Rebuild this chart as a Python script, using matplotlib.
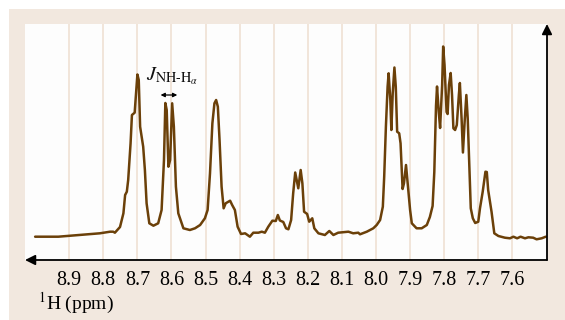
import matplotlib
matplotlib.use("Agg")
import matplotlib.pyplot as plt

# 1H NMR spectrum, amide region (chemical shift in ppm, intensity in arbitrary units)
shift_ppm = [
    9.000, 8.932, 8.883, 8.834, 8.810, 8.780, 8.771, 8.766, 8.751, 8.741,
    8.736, 8.731, 8.727, 8.720, 8.716, 8.708, 8.704, 8.700, 8.696, 8.692,
    8.683, 8.678, 8.673, 8.665, 8.653, 8.639, 8.629, 8.622, 8.618, 8.614,
    8.609, 8.604, 8.598, 8.593, 8.587, 8.580, 8.565, 8.546, 8.531, 8.516,
    8.502, 8.494, 8.487, 8.480, 8.474, 8.469, 8.464, 8.459, 8.453, 8.447,
    8.441, 8.428, 8.422, 8.414, 8.406, 8.396, 8.384, 8.370, 8.360, 8.345,
    8.335, 8.326, 8.316, 8.304, 8.294, 8.288, 8.282, 8.272, 8.264, 8.257,
    8.249, 8.243, 8.237, 8.228, 8.221, 8.216, 8.211, 8.202, 8.196, 8.187,
    8.181, 8.169, 8.150, 8.137, 8.125, 8.111, 8.081, 8.067, 8.052, 8.047,
    8.027, 8.008, 7.998, 7.988, 7.980, 7.976, 7.971, 7.966, 7.963, 7.958,
    7.955, 7.951, 7.946, 7.942, 7.938, 7.932, 7.928, 7.922, 7.918, 7.912,
    7.907, 7.900, 7.895, 7.881, 7.866, 7.851, 7.842, 7.834, 7.829, 7.824,
    7.821, 7.816, 7.812, 7.806, 7.803, 7.799, 7.793, 7.790, 7.786, 7.781,
    7.777, 7.773, 7.768, 7.763, 7.757, 7.754, 7.749, 7.745, 7.740, 7.735,
    7.731, 7.726, 7.722, 7.716, 7.709, 7.700, 7.695, 7.687, 7.679, 7.675,
    7.671, 7.661, 7.653, 7.641, 7.622, 7.607, 7.597, 7.586, 7.576, 7.563,
    7.553, 7.539, 7.529, 7.514, 7.502,
]
intensity = [
    23.3, 23.3, 24.7, 26.0, 26.7, 28.3, 28.3, 27.3, 33.0, 46.7,
    65.0, 68.3, 80.0, 116.7, 145.0, 147.3, 166.7, 185.5, 180.0, 133.3,
    113.3, 90.0, 56.7, 36.7, 34.3, 36.7, 50.0, 100.0, 157.0, 150.0,
    93.3, 100.0, 156.7, 133.3, 73.3, 46.7, 31.7, 30.0, 31.7, 35.0,
    41.7, 50.0, 86.7, 136.7, 156.7, 160.0, 153.3, 120.0, 73.3, 51.7,
    56.7, 59.3, 55.0, 50.0, 33.3, 26.0, 26.7, 23.3, 27.3, 27.3,
    28.3, 27.3, 33.3, 39.3, 39.0, 45.0, 39.5, 38.0, 31.7, 30.7,
    40.0, 66.7, 87.5, 71.7, 90.0, 76.7, 48.3, 46.0, 38.3, 41.7,
    31.7, 26.7, 25.0, 29.0, 25.0, 27.3, 28.3, 26.7, 27.3, 25.7,
    28.3, 31.7, 35.0, 40.0, 53.3, 83.3, 133.3, 173.3, 186.7, 160.0,
    130.0, 166.7, 192.5, 173.3, 128.3, 126.7, 116.7, 71.0, 76.7, 95.0,
    76.7, 50.0, 36.7, 31.7, 31.7, 35.0, 43.0, 54.0, 88.0, 154.0,
    173.5, 148.3, 132.0, 175.0, 213.5, 195.0, 148.0, 146.0, 175.0, 187.0,
    165.0, 131.7, 130.0, 135.0, 165.0, 177.0, 141.7, 107.5, 138.3, 165.0,
    141.7, 91.7, 51.7, 41.7, 37.0, 38.3, 51.7, 68.3, 88.3, 88.0,
    70.0, 48.0, 26.7, 24.0, 22.3, 21.7, 23.3, 21.7, 23.3, 21.7,
    22.7, 22.3, 20.7, 21.7, 23.3,
]

tick_values = [8.9, 8.8, 8.7, 8.6, 8.5, 8.4, 8.3, 8.2, 8.1, 8.0, 7.9, 7.8, 7.7, 7.6]
tick_labels = [f"{v:.1f}" for v in tick_values]

# coupling-constant marker across the doublet
j_arrow_ppm = [8.632, 8.583]
j_arrow_level = 165.0

plt.rcParams["font.family"] = ["Liberation Serif", "DejaVu Serif"]
plt.rcParams["mathtext.fontset"] = "stix"

W, H = 565, 320
fig = plt.figure(figsize=(W / 100, H / 100), dpi=100)
fig.patch.set_facecolor("white")

# beige panel behind the plot
bg = fig.add_axes([9 / W, 0, 1 - 9 / W, 1 - 9 / H], zorder=-5)
bg.set_facecolor("#f2e8df")
bg.set_xticks([])
bg.set_yticks([])
for s in bg.spines.values():
    s.set_visible(False)

ax = fig.add_axes([25 / W, 1 - 260 / H, (547 - 25) / W, (260 - 24) / H], zorder=1)
ax.set_facecolor("#fdfdfd")

ax.plot(shift_ppm, intensity, color="#6b4009", lw=1.8, solid_joinstyle="round",
        solid_capstyle="round", zorder=3)

ax.set_xlim(9.0297, 7.4984)
ax.set_ylim(0, 236)

ax.set_xticks(tick_values)
ax.set_xticklabels(tick_labels, fontsize=14.5)
ax.tick_params(axis="x", length=0, pad=8.0)
ax.set_yticks([])
ax.grid(axis="x", color="#f1e5da", lw=1.4, zorder=0)

for s in ax.spines.values():
    s.set_visible(False)

# axes drawn as arrows: x to the left along the bottom, intensity up the right side
ax.annotate("", xy=(0.0, 0.0), xytext=(1.0, 0.0), xycoords="axes fraction",
            arrowprops=dict(arrowstyle="-|>", color="black", lw=1.3,
                            mutation_scale=15, shrinkA=0, shrinkB=0), annotation_clip=False)
ax.annotate("", xy=(1.0, 1.0), xytext=(1.0, 0.0), xycoords="axes fraction",
            arrowprops=dict(arrowstyle="-|>", color="black", lw=1.3,
                            mutation_scale=15, shrinkA=0, shrinkB=0), annotation_clip=False)

# J label with double-headed arrow
ax.annotate("", xy=(j_arrow_ppm[0], j_arrow_level), xytext=(j_arrow_ppm[1], j_arrow_level),
            arrowprops=dict(arrowstyle="<|-|>", color="black", lw=0.9,
                            mutation_scale=6, shrinkA=0, shrinkB=0))
ax.text(8.675, 180, r"$J_{\mathrm{NH‐H}_{\alpha}}$", fontsize=14.5, ha="left",
        va="baseline", color="#111111")

fig.text(38 / W, 1 - 309 / H, r"$^{1}$H (ppm)", fontsize=14, ha="left", va="baseline")

fig.savefig("out.png", dpi=100, facecolor=fig.get_facecolor())
